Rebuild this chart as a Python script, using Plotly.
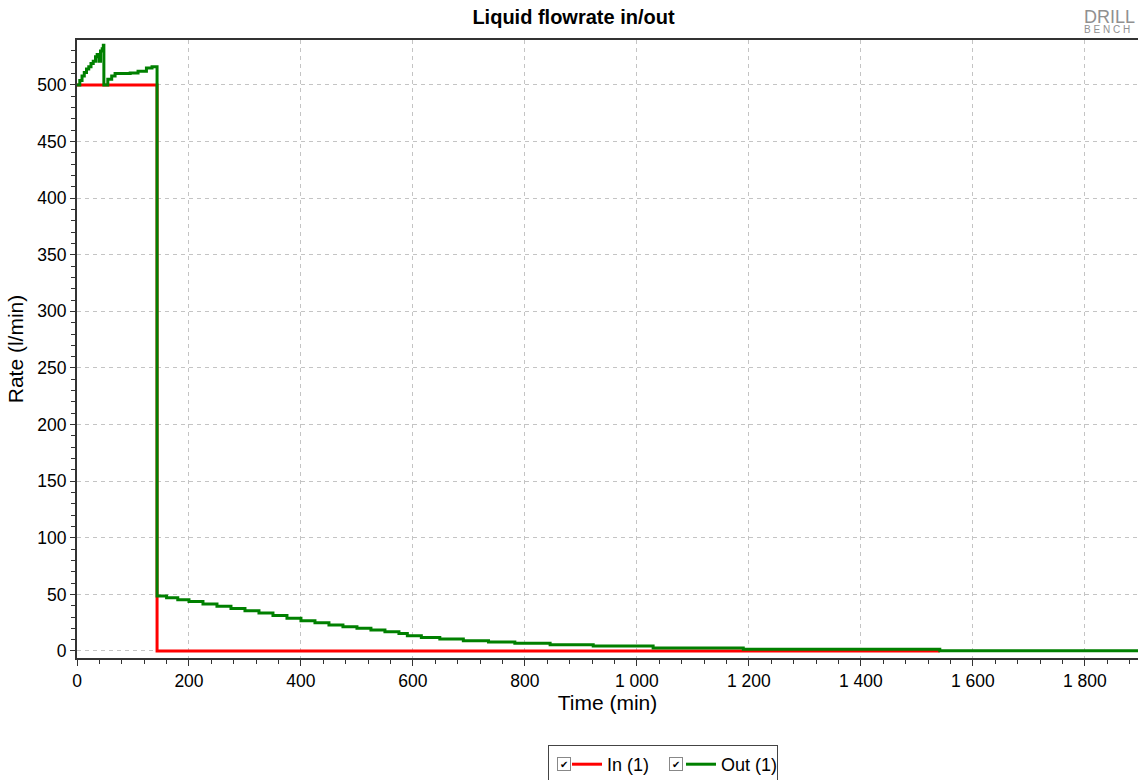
import plotly.graph_objects as go

# liquid rate in (l/min) vs time (min)
in_time = [0, 143, 143, 1541]
in_rate = [500, 500, 0, 0]

# liquid rate out (l/min) vs time (min)
out_time = [0, 5, 9, 13, 17, 21, 25, 29, 33, 36, 39, 42, 45, 47, 48, 55, 62, 68, 80, 95, 109, 124, 134, 142,
            143, 160, 180, 200, 225, 250, 275, 300, 325, 350, 375, 400, 425, 450, 475, 500, 525, 550, 575,
            590, 615, 648, 690, 735, 782, 845, 922, 1029, 1190, 1541, 1900]
out_rate = [500, 504, 508, 511, 514, 516, 519, 521, 525, 527, 521, 530, 532, 535, 500, 505, 508, 510, 510, 510.5, 512, 515, 516, 516,
            48.5, 47, 45.3, 43.6, 41.5, 39.5, 37.5, 35.6, 33.5, 31.4, 29.0, 26.8, 25, 23, 21.3, 20, 18.5, 17, 15.5,
            13.5, 11.8, 10.6, 9.1, 7.95, 6.8, 5.6, 4.4, 2.65, 1.5, 0.3, 0.3]

FONT = "Liberation Sans, Arial, sans-serif"

fig = go.Figure()
fig.add_trace(go.Scatter(x=in_time, y=in_rate, name="In (1)", mode="lines",
                         line=dict(color="#ff0000", width=3, shape="hv")))
fig.add_trace(go.Scatter(x=out_time, y=out_rate, name="Out (1)", mode="lines",
                         line=dict(color="#008000", width=3, shape="hv")))

grid = dict(showgrid=True, gridcolor="#c4c4c4", griddash="4px,4px", gridwidth=1)

fig.update_xaxes(range=[0, 1895], dtick=200, tickformat=",d", ticks="outside", ticklen=6,
                 tickcolor="#333", showline=True, linecolor="#333", linewidth=2, mirror=True,
                 minor=dict(dtick=40, ticks="outside", ticklen=4, tickcolor="#333"),
                 title=dict(text="Time (min)", standoff=2), zeroline=False, automargin=False, **grid)
fig.update_yaxes(range=[-6.2, 539.7], dtick=50, ticks="outside", ticklen=5,
                 tickcolor="#333", showline=True, linecolor="#333", linewidth=2,
                 minor=dict(dtick=10, ticks="outside", ticklen=4, tickcolor="#333"),
                 title=dict(text="Rate (l/min)", standoff=8), zeroline=False, automargin=False, **grid)

fig.update_layout(
    width=1138, height=780,
    template="plotly_white",
    separators=". ",
    font=dict(family=FONT, size=17.5, color="#000"),
    title=dict(text="<b>Liquid flowrate in/out</b>", x=573.5 / 1138, xanchor="center",
               y=1 - 17 / 780, yanchor="middle", font=dict(size=20, family=FONT), automargin=False),
    margin=dict(l=77, r=0, t=40, b=122, autoexpand=False),
    plot_bgcolor="white", paper_bgcolor="white",
    showlegend=True,
    legend=dict(orientation="h", xref="container", x=548 / 1138, xanchor="left",
                yref="container", y=1 - 745 / 780, yanchor="top",
                bordercolor="#444", borderwidth=1, font=dict(size=18),
                indentation=18, entrywidth=51, itemwidth=30),
)

# check boxes in the legend
for xp in [564, 676]:
    fig.add_annotation(x=(xp - 77) / 1061, y=(658 - 764) / 618, xref="paper", yref="paper", text="✔",
                       xanchor="center", yanchor="middle",
                       showarrow=False, font=dict(size=10, color="#000"), bordercolor="#888",
                       borderwidth=1, borderpad=0, bgcolor="white", width=12, height=12)

# logo (cut off at the right edge, as in the original)
fig.add_annotation(x=(1082 - 77) / 1061, y=(658 - 5) / 618, xref="paper", yref="paper", text="DRILL",
                   showarrow=False, xanchor="left", yanchor="top",
                   font=dict(size=18, color="#909090", family=FONT))
fig.add_annotation(x=(1082 - 77) / 1061, y=(658 - 22) / 618, xref="paper", yref="paper", text="B E N C H",
                   showarrow=False, xanchor="left", yanchor="top",
                   font=dict(size=10, color="#909090", family=FONT))

fig.write_html("out.html", config={"displayModeBar": False},
               post_script="document.body.style.margin='0';document.body.style.overflow='hidden';")
